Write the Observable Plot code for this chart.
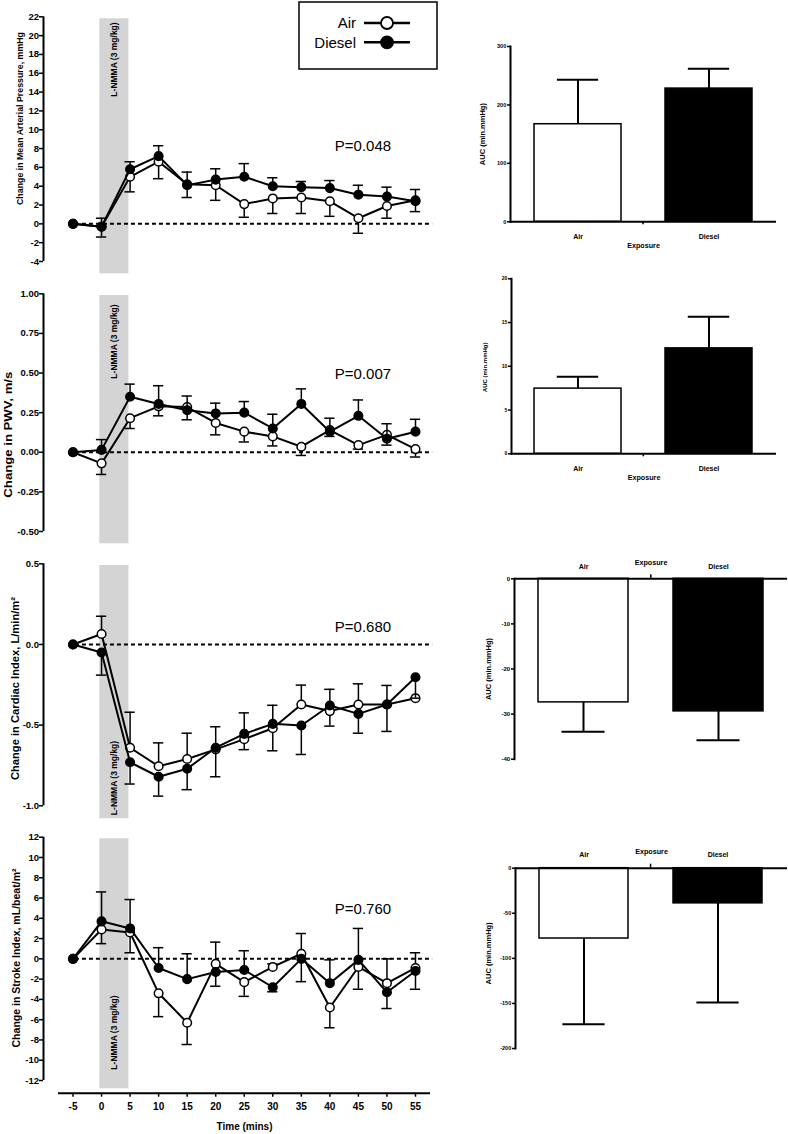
<!DOCTYPE html>
<html><head><meta charset="utf-8">
<script src="https://cdn.jsdelivr.net/npm/d3@7"></script>
<script src="https://cdn.jsdelivr.net/npm/@observablehq/plot@0.6"></script>
<style>
body{margin:0;background:#fff;}
#fig{position:relative;width:788px;height:1134px;overflow:hidden;background:#fff;}
#fig > svg{position:absolute;}
</style></head><body><div id="fig"></div>
<script>
// ---------- DATA ----------
const times = [-5,0,5,10,15,20,25,30,35,40,45,50,55];
const seriesNames = ["Air","Diesel"];

// Mean arterial pressure (mmHg); signed error = drawn SEM (+ up / - down)
const mapAir       = [0,-0.3,5.0,6.6,4.2,4.1,2.1,2.7,2.8,2.4,0.6,1.9,2.5];
const mapAirErr    = [0,-1.1,-1.6,-1.8,-1.4,-1.6,-1.4,-1.6,-1.7,-1.6,-1.6,-1.3,-1.2];
const mapDiesel    = [0,-0.3,5.8,7.2,4.1,4.7,5.0,4.0,3.9,3.8,3.1,2.9,2.4];
const mapDieselErr = [0,0.9,0.8,1.1,1.4,1.15,1.4,0.9,0.6,0.8,1.0,1.0,1.25];
const mapTicks = [-4,-2,0,2,4,6,8,10,12,14,16,18,20,22];

// PWV (m/s)
const pwvAir       = [0,-0.07,0.215,0.29,0.285,0.185,0.13,0.10,0.035,0.14,0.045,0.11,0.02];
const pwvAirErr    = [0,-0.07,-0.065,-0.06,-0.08,-0.075,-0.065,-0.06,-0.055,-0.04,-0.025,-0.065,-0.05];
const pwvDiesel    = [0,0.015,0.35,0.305,0.265,0.245,0.25,0.15,0.305,0.13,0.23,0.085,0.13];
const pwvDieselErr = [0,0.065,0.08,0.115,0.09,0.065,0.07,0.09,0.095,0.085,0.10,0.095,0.078];
const pwvTicks = [-0.5,-0.25,0,0.25,0.5,0.75,1];

// Cardiac index (L/min/m2)
const ciAir       = [0,0.065,-0.64,-0.755,-0.71,-0.65,-0.587,-0.519,-0.372,-0.413,-0.372,-0.372,-0.333];
const ciAirErr    = [0,0.11,0.22,0.145,0.16,0.14,-0.065,-0.14,0.12,-0.093,0.128,0.118,0];
const ciDiesel    = [0,-0.05,-0.73,-0.82,-0.77,-0.64,-0.554,-0.492,-0.502,-0.378,-0.43,-0.372,-0.203];
const ciDieselErr = [0,-0.14,-0.135,-0.12,-0.13,-0.18,0.13,0.115,-0.18,0.1,-0.12,-0.167,-0.13];
const ciTicks = [-1,-0.5,0,0.5];

// Stroke index (mL/beat/m2)
const siAir       = [0,2.9,2.6,-3.4,-6.3,-0.5,-2.3,-0.8,0.5,-4.8,-0.8,-2.4,-0.9];
const siAirErr    = [0,-1.4,-2.0,-2.3,-2.15,2.15,-1.4,0.3,2.0,-2.0,-2.2,2.4,1.5];
const siDiesel    = [0,3.7,3.0,-0.9,-2.0,-1.3,-1.1,-2.8,0.0,-2.4,-0.1,-3.3,-1.2];
const siDieselErr = [0,2.9,2.85,2.0,2.5,-1.4,1.9,-0.45,-2.25,2.3,3.1,-1.6,-1.8];
const siTicks = [-12,-10,-8,-6,-4,-2,0,2,4,6,8,10,12];

// AUC bars [Air, Diesel]
const mapAuc = [167, 228];   const mapAucErr = [76, 34];
const pwvAuc = [7.45, 12.05]; const pwvAucErr = [1.35, 3.6];
const ciAuc  = [-27.4, -29.4]; const ciAucErr = [-6.5, -6.4];
const siAuc  = [-78, -39];   const siAucErr = [-95, -110];
const mapAucTicks = [0,100,200,300];
const pwvAucTicks = [0,5,10,15,20];
const ciAucTicks  = [-40,-30,-20,-10,0];
const siAucTicks  = [-200,-150,-100,-50,0];

const pValues = ["P=0.048","P=0.007","P=0.680","P=0.760"];
const yLabels = ["Change in Mean Arterial Pressure, mmHg","Change in PWV, m/s","Change in Cardiac Index, L/min/m\u00B2","Change in Stroke Index, mL/beat/m\u00B2"];
const bandLabel = "L-NMMA (3 mg/kg)";
const xLabel = "Time (mins)";
const aucLabel = "AUC (min.mmHg)";
const exposureLabel = "Exposure";

// ---------- LAYOUT / STYLE ----------
const FONT = "'Liberation Sans', Arial, Helvetica, sans-serif";
const X_DOMAIN = [-10.17, 57.63];
const X_AXIS_START = -7.54;
const BAND = [-0.3, 4.8];
const CAP = 0.9;
const P_X = 45.8;
const fig = document.getElementById("fig");

function place(svg, left, top){ svg.style.left = left + "px"; svg.style.top = top + "px"; svg.style.position = "absolute"; fig.appendChild(svg); }
function baseStyle(){ return {fontFamily: FONT, fontWeight: "bold", color: "black", background: "transparent", overflow: "visible"}; }
function fitText(svg, str, len){
  svg.querySelectorAll("text").forEach(t => {
    if (t.textContent === str) { t.setAttribute("textLength", len); t.setAttribute("lengthAdjust", "spacingAndGlyphs"); }
  });
}

function seriesMarks(mean, err, fill){
  const r = times.map((t,i)=>({t, v: mean[i], e: err[i]}));
  const eb = r.filter(d => d.e !== 0);
  return [
    Plot.line(r, {x:"t", y:"v", stroke:"black", strokeWidth:2}),
    Plot.ruleX(eb, {x:"t", y1:"v", y2:d=>d.v+d.e, stroke:"black", strokeWidth:1.5}),
    Plot.ruleY(eb, {y:d=>d.v+d.e, x1:d=>d.t-CAP, x2:d=>d.t+CAP, stroke:"black", strokeWidth:1.5}),
    Plot.dot(r, {x:"t", y:"v", r:4.3, fill, stroke:"black", strokeWidth:1.5})
  ];
}

function leftPanel(o){
  const frameBottomPx = o.height - o.mB;
  const yAt = px => o.yDomain[0] + (px - o.yRange[0]) * (o.yDomain[1]-o.yDomain[0]) / (o.yRange[1]-o.yRange[0]);
  const marks = [
    Plot.rect([0], {x1:BAND[0], x2:BAND[1], fill:"#d4d4d4", insetBottom:o.bandInsetBottom||0}),
    Plot.ruleY([0], {x1:-5.8, x2:58, stroke:"black", strokeWidth:2, strokeDasharray:"4,3"}),
    Plot.ruleX([X_DOMAIN[0]], {y1:o.yDomain[0], y2:o.yDomain[1], stroke:"black", strokeWidth:2}),
    Plot.axisY({ticks:o.ticks, tickFormat:o.fmt, tickSize:4, tickPadding:0.5, fontSize:9.5, fontWeight:"bold", strokeWidth:1.5, label:null}),
    ...seriesMarks(o.air, o.airErr, "white"),
    ...seriesMarks(o.diesel, o.dieselErr, "black"),
    Plot.text([o.pText], {x:P_X, y:o.pY, fontSize:15, fontWeight:"normal"}),
    Plot.text([bandLabel], {x:(BAND[0]+BAND[1])/2, frameAnchor:o.bandAnchor, dy:o.bandDy, rotate:-90, fontSize:8.5, textAnchor:"middle", lineAnchor:"middle"}),
    Plot.text([o.label], {frameAnchor:"left", dx:o.labelDx, dy:o.labelDy, rotate:-90, fontSize:o.labelFont, textAnchor:"middle", lineAnchor:"middle"})
  ];
  if (o.xAxis) {
    marks.push(
      Plot.ruleY([yAt(frameBottomPx)], {x1:X_AXIS_START, x2:X_DOMAIN[1], stroke:"black", strokeWidth:2}),
      Plot.axisX({ticks:times, tickFormat:d=>String(d), tickSize:4, tickPadding:5.5, fontSize:10, fontWeight:"bold", strokeWidth:1.5, label:null}),
      Plot.text([xLabel], {x:(X_AXIS_START+X_DOMAIN[1])/2, frameAnchor:"bottom", dy:34, fontSize:10, textAnchor:"middle", lineAnchor:"middle"})
    );
  }
  const svg = Plot.plot({
    width:440, height:o.height, marginLeft:43, marginRight:10, marginTop:o.mT, marginBottom:o.mB,
    x: o.xAxis ? {domain:X_DOMAIN} : {domain:X_DOMAIN, axis:null},
    y: {domain:o.yDomain, range:o.yRange},
    style: baseStyle(),
    marks
  });
  fitText(svg, o.label, o.labelLen);
  place(svg, 0, o.top);
}

function barPanel(o){
  const data = seriesNames.map((g,i)=>({g, v:o.vals[i], e:o.errs[i]}));
  const pI = 0.333, pO = 0.175;
  const step = (o.width - o.mL - o.mR) / (2 - pI + 2*pO);
  const frameH = o.height - o.mT - o.mB;
  const upp = (o.yDomain[1]-o.yDomain[0]) / frameH;
  const inset = step*(1-pI)*0.26;
  const anchor = o.below ? "bottom" : "top";
  const svg = Plot.plot({
    width:o.width, height:o.height, marginLeft:o.mL, marginRight:o.mR, marginTop:o.mT, marginBottom:o.mB,
    x:{domain:seriesNames, paddingInner:pI, paddingOuter:pO, axis:null},
    y:{domain:o.yDomain},
    style: baseStyle(),
    marks:[
      Plot.barY(data.filter(d=>d.g==="Air"), {x:"g", y:"v", fill:"white", stroke:"black", strokeWidth:1.5}),
      Plot.barY(data.filter(d=>d.g==="Diesel"), {x:"g", y:"v", fill:"black", stroke:"black", strokeWidth:1.5}),
      Plot.ruleX(data, {x:"g", y1:"v", y2:d=>d.v+d.e, stroke:"black", strokeWidth:2}),
      Plot.tickY(data, {x:"g", y:d=>d.v+d.e, insetLeft:inset, insetRight:inset, stroke:"black", strokeWidth:2}),
      Plot.ruleY([0], {stroke:"black", strokeWidth:2}),
      Plot.frame({anchor:"left", stroke:"black", strokeWidth:2}),
      Plot.ruleX([seriesNames[1]], {x:d=>d, dx:-step/2, y1:0, y2:(o.below ? -3 : 4)*upp, stroke:"black", strokeWidth:1.5}),
      Plot.axisY({ticks:o.ticks, tickFormat:d=>String(d), tickSize:3, tickPadding:1.3, fontSize:o.tickFont, fontWeight:"bold", strokeWidth:1.5, label:null}),
      Plot.text(seriesNames, {x:d=>d, text:d=>d, frameAnchor:anchor, dy:o.catDy, fontSize:7, textAnchor:"middle", lineAnchor:"middle"}),
      Plot.text([exposureLabel], {frameAnchor:anchor, dy:o.expDy, fontSize:7.2, textAnchor:"middle", lineAnchor:"middle"}),
      Plot.text([aucLabel], {frameAnchor:"left", dx:o.labelDx, dy:o.labelDy, rotate:-90, fontSize:o.labelFont, textAnchor:"middle", lineAnchor:"middle"})
    ]
  });
  place(svg, o.left, o.top);
}

// ---------- LEFT PANELS ----------
leftPanel({top:0, height:280, mT:18.3, mB:6.7, yDomain:[-4,22], yRange:[261,16.3], ticks:mapTicks, fmt:d=>String(d),
  air:mapAir, airErr:mapAirErr, diesel:mapDiesel, dieselErr:mapDieselErr, pText:pValues[0], pY:8.3,
  bandAnchor:"top", bandDy:40.7, label:yLabels[0], labelFont:9, labelLen:173, labelDx:-23, labelDy:-27.8});

leftPanel({top:280, height:270, mT:15, mB:6.7, yDomain:[-0.5,1], yRange:[251,13.3], ticks:pwvTicks, fmt:d=>d.toFixed(2),
  air:pwvAir, airErr:pwvAirErr, diesel:pwvDiesel, dieselErr:pwvDieselErr, pText:pValues[1], pY:0.49,
  bandAnchor:"top", bandDy:46, label:yLabels[1], labelFont:11.5, labelLen:126, labelDx:-35, labelDy:15});

leftPanel({top:550, height:280, mT:15, mB:11.7, yDomain:[-1,0.5], yRange:[255.3,13.3], ticks:ciTicks, fmt:d=>d.toFixed(1),
  air:ciAir, airErr:ciAirErr, diesel:ciDiesel, dieselErr:ciDieselErr, pText:pValues[2], pY:0.11,
  bandAnchor:"bottom", bandDy:-40.8, label:yLabels[2], labelFont:11, labelLen:183, labelDx:-28, labelDy:-3.6});

leftPanel({top:825, height:309, mT:13.3, mB:41.3, yDomain:[-12,12], yRange:[255,11.7], ticks:siTicks, fmt:d=>String(d),
  air:siAir, airErr:siAirErr, diesel:siDiesel, dieselErr:siDieselErr, pText:pValues[3], pY:4.87,
  bandAnchor:"bottom", bandDy:-60.7, bandInsetBottom:4.4, label:yLabels[3], labelFont:10.5, labelLen:179, labelDx:-26.5, labelDy:-8, xAxis:true});

// ---------- BAR PANELS ----------
barPanel({left:460, top:30, width:328, height:230, mL:50, mR:12, mT:16, mB:38.7, yDomain:[0,300], ticks:mapAucTicks,
  vals:mapAuc, errs:mapAucErr, below:true, tickFont:5.5, labelFont:7.5, labelDx:-28, labelDy:0, catDy:15, expDy:24});
barPanel({left:460, top:270, width:328, height:230, mL:51, mR:12, mT:8.3, mB:46.7, yDomain:[0,20], ticks:pwvAucTicks,
  vals:pwvAuc, errs:pwvAucErr, below:true, tickFont:5, labelFont:6, labelDx:-26, labelDy:1, catDy:14.7, expDy:23.7});
barPanel({left:460, top:550, width:328, height:230, mL:54, mR:1, mT:28.3, mB:21.3, yDomain:[-40,0], ticks:ciAucTicks,
  vals:ciAuc, errs:ciAucErr, below:false, tickFont:6, labelFont:7.5, labelDx:-26.3, labelDy:0, catDy:-12.3, expDy:-16.3});
barPanel({left:460, top:830, width:328, height:240, mL:55, mR:1, mT:37.7, mB:22, yDomain:[-200,0], ticks:siAucTicks,
  vals:siAuc, errs:siAucErr, below:false, tickFont:5.5, labelFont:7.5, labelDx:-27, labelDy:-5, catDy:-13.7, expDy:-17});

// ---------- LEGEND ----------
const leg = d3.create("svg").attr("width",160).attr("height",75).attr("font-family",FONT);
leg.append("rect").attr("x",9).attr("y",2).attr("width",138).attr("height",67).attr("fill","white").attr("stroke","black").attr("stroke-width",1.5);
const legRowY = [23, 42.3];
seriesNames.forEach((name,i)=>{
  const y = legRowY[i];
  leg.append("text").attr("x",66).attr("y",y).attr("dy","0.35em").attr("text-anchor","end").attr("font-size",15).attr("fill","black").text(name);
  leg.append("line").attr("x1",74).attr("x2",120).attr("y1",y).attr("y2",y).attr("stroke","black").attr("stroke-width",2.5);
  leg.append("circle").attr("cx",97).attr("cy",y).attr("r",6).attr("fill",i===0?"white":"black").attr("stroke","black").attr("stroke-width",1.8);
});
place(leg.node(), 290, 0);
</script></body></html>
